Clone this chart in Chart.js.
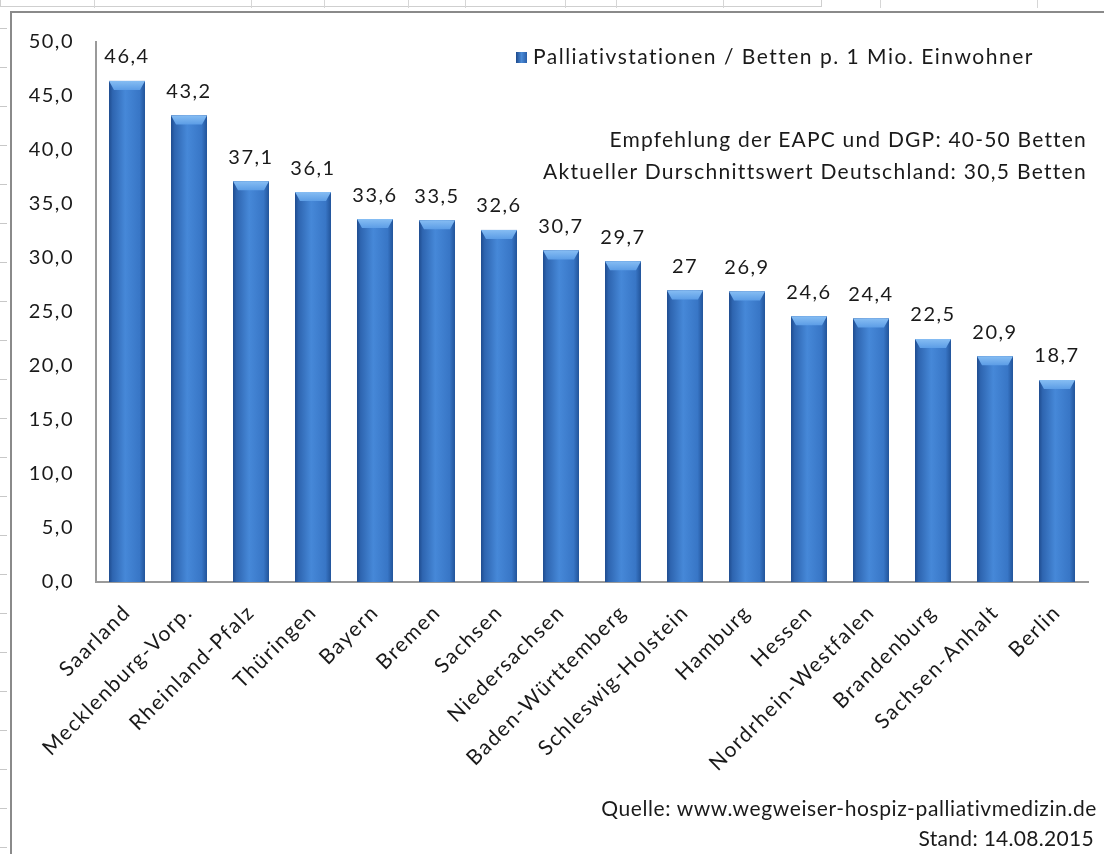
<!DOCTYPE html>
<html>
<head>
<meta charset="utf-8">
<script src="https://cdn.jsdelivr.net/npm/chart.js@4/dist/chart.umd.min.js"></script>
<style>
  html, body { margin:0; padding:0; background:#fff; }
  body { width:1104px; height:854px; position:relative; overflow:hidden; font-family:"Lato","Open Sans",sans-serif; }
  #wrap { position:absolute; left:0; top:0; width:1104px; height:854px; }
  .frame { position:absolute; left:10px; top:11px; width:1100px; height:860px; border-left:2px solid #8a8a8a; border-top:2px solid #8a8a8a; }
  .cellbox { position:absolute; left:0; top:-2px; width:820px; height:8px; border:1px solid #cfcfcf; border-top:none; }
  .vline { position:absolute; top:0; width:1px; height:8px; background:#d6d6d6; }
  .hline { position:absolute; left:0; width:7px; height:1px; background:#c8c8c8; }
  .txt { position:absolute; color:#1a1a1a; font-size:21px; white-space:nowrap; text-align:right; font-family:"Lato","Open Sans",sans-serif; }
  .legend { position:absolute; left:516px; top:43px; font-size:21px; letter-spacing:1.5px; color:#1a1a1a; white-space:nowrap; font-family:"Lato","Open Sans",sans-serif; }
  .legend i { display:inline-block; width:11px; height:11px; background:linear-gradient(90deg,#1d4a8c,#4a8ad6,#2a5ea8); margin-right:6px; vertical-align:1px; }
</style>
</head>
<body>
<div id="deco"></div>
<div class="frame"></div>
<div id="wrap"><canvas id="c" width="1104" height="854"></canvas></div>
<div class="legend"><i></i>Palliativstationen / Betten p. 1 Mio. Einwohner</div>
<div class="txt" style="right:17px; top:126px; letter-spacing:1.2px;">Empfehlung der EAPC und DGP: 40-50 Betten</div>
<div class="txt" style="right:17px; top:158px; letter-spacing:1.3px;">Aktueller Durschnittswert Deutschland: 30,5 Betten</div>
<div class="txt" style="right:7px; top:795px; letter-spacing:0.6px;">Quelle: www.wegweiser-hospiz-palliativmedizin.de</div>
<div class="txt" style="right:10px; top:825px; letter-spacing:0.3px;">Stand: 14.08.2015</div>
<script>
// ---- data ----
const categories = ["Saarland","Mecklenburg-Vorp.","Rheinland-Pfalz","Thüringen","Bayern","Bremen","Sachsen","Niedersachsen","Baden-Württemberg","Schleswig-Holstein","Hamburg","Hessen","Nordrhein-Westfalen","Brandenburg","Sachsen-Anhalt","Berlin"];
const bedsPerMillion = [46.4, 43.2, 37.1, 36.1, 33.6, 33.5, 32.6, 30.7, 29.7, 27, 26.9, 24.6, 24.4, 22.5, 20.9, 18.7];
const seriesName = "Palliativstationen / Betten p. 1 Mio. Einwohner";
const yTicks = [0, 5, 10, 15, 20, 25, 30, 35, 40, 45, 50];

// spreadsheet decoration
(function(){
  const d = document.getElementById('deco');
  let h = '<div class="cellbox"></div>';
  [94,251,324,408,465,565,616,723,880,1037].forEach(x=>{ h += '<div class="vline" style="left:'+x+'px"></div>'; });
  for (let y = 28; y < 854; y += 39) h += '<div class="hline" style="top:'+y+'px"></div>';
  d.innerHTML = h;
})();

const fmt = v => String(v).replace('.', ',');
const FONT = '"Lato","Open Sans",sans-serif';

const spacing = {
  id: 'spacing',
  beforeDraw(chart) { chart.ctx.letterSpacing = '1.5px'; }
};

const barStyle = {
  id: 'barStyle',
  afterDatasetsDraw(chart) {
    const ctx = chart.ctx;
    const meta = chart.getDatasetMeta(0);
    ctx.save();
    meta.data.forEach((el, i) => {
      const w = el.width, x0 = el.x - w/2, x1 = el.x + w/2, y = el.y, base = el.base;
      const g = ctx.createLinearGradient(x0, 0, x1, 0);
      g.addColorStop(0, '#1f4c8f');
      g.addColorStop(0.1, '#2e65b0');
      g.addColorStop(0.45, '#4688d8');
      g.addColorStop(0.85, '#3876c6');
      g.addColorStop(1, '#22549a');
      ctx.fillStyle = g;
      ctx.fillRect(x0, y, w, base - y);
      // top bevel
      const bev = 9, side = 5;
      const gb = ctx.createLinearGradient(0, y, 0, y + bev);
      gb.addColorStop(0, '#86bdf3');
      gb.addColorStop(1, '#5c9de6');
      ctx.fillStyle = gb;
      ctx.beginPath();
      ctx.moveTo(x0, y); ctx.lineTo(x1, y); ctx.lineTo(x1 - side, y + bev); ctx.lineTo(x0 + side, y + bev); ctx.closePath();
      ctx.fill();
      // value label
      ctx.fillStyle = '#1a1a1a';
      ctx.font = '20px ' + FONT;
      ctx.textAlign = 'center';
      ctx.textBaseline = 'bottom';
      ctx.fillText(fmt(bedsPerMillion[i]), el.x, y - 14);
    });
    ctx.restore();
  }
};

new Chart(document.getElementById('c'), {
  type: 'bar',
  data: {
    labels: categories,
    datasets: [{
      label: seriesName,
      data: bedsPerMillion,
      backgroundColor: '#3a78c8',
      borderWidth: 0,
      barPercentage: 0.58,
      categoryPercentage: 1.0
    }]
  },
  options: {
    responsive: false,
    animation: false,
    events: [],
    layout: { padding: { top: 42, right: 16, left: 0, bottom: 0 } },
    plugins: { legend: { display: false }, tooltip: { enabled: false } },
    scales: {
      x: {
        grid: { display: false, drawTicks: false },
        border: { display: true, color: '#9a9a9a', width: 2 },
        ticks: { color: '#1a1a1a', font: { family: FONT, size: 21 }, minRotation: 45, maxRotation: 45, autoSkip: false, padding: 18 },
        afterFit(s) { s.height = 272; }
      },
      y: {
        min: 0, max: 50,
        afterBuildTicks(s) { s.ticks = yTicks.map(v => ({ value: v })); },
        grid: { display: false, drawTicks: false },
        border: { display: true, color: '#9a9a9a', width: 2 },
        ticks: { color: '#1a1a1a', font: { family: FONT, size: 20 }, padding: 22, callback: v => v.toFixed(1).replace('.', ',') },
        afterFit(s) { s.width = 96; }
      }
    }
  },
  plugins: [spacing, barStyle]
});
</script>
</body>
</html>
